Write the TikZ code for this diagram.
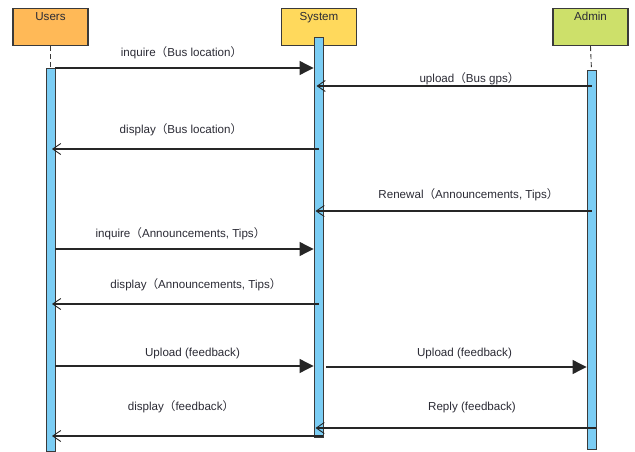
\documentclass[tikz,border=0pt]{standalone}
\usepackage{fontspec}
\setmainfont{Liberation Sans}
\newfontfamily\cjkfont{Noto Sans CJK SC}
\newcommand\fwl{{\cjkfont （}}
\newcommand\fwr{{\cjkfont ）}}
\usetikzlibrary{arrows.meta}
\definecolor{usersC}{HTML}{FFB957}
\definecolor{systemC}{HTML}{FFD95C}
\definecolor{adminC}{HTML}{CDE06A}
\definecolor{barC}{HTML}{7BCDF4}
\definecolor{edgeC}{HTML}{3A3A3A}
\definecolor{txtC}{HTML}{2B2B35}
\begin{document}
\begin{tikzpicture}[x=1pt,y=-1pt,
  font=\fontsize{11.6}{13.8}\selectfont,
  actor/.style={draw=edgeC, line width=1.2pt, minimum width=75pt, minimum height=37pt,
    inner sep=0pt, text height=12pt, text depth=25pt, anchor=north, text=txtC},
  bar/.style={draw=edgeC, fill=barC, line width=0.9pt, minimum width=9pt, inner sep=0pt, anchor=north},
  life/.style={draw=edgeC, line width=0.9pt, dash pattern=on 5pt off 3pt},
  msg/.style={draw=black!85, line width=1.1pt},
  sync/.style={msg, -{Triangle[length=14pt,width=14pt]}},
  reply/.style={msg, -{Straight Barb[length=8pt,width=11pt,line width=0.9pt]}},
  lbl/.style={anchor=base, text=txtC, inner sep=0pt}]
\useasboundingbox (0,0) rectangle (635,452);
\fill[white] (0,0) rectangle (635,452);

% actors
\node[actor, fill=usersC] (users) at (50.5,8) {Users};
\node[actor, fill=systemC] (system) at (319,8) {System};
\node[actor, fill=adminC] (admin) at (590.5,8) {Admin};

% lifelines
\coordinate (ulb) at (50.5,68);
\coordinate (alb) at (591.5,70);
\draw[life] (users.south) -- (ulb);
\draw[life] (admin.south) -- (alb);

% activation bars
\node[bar, minimum height=383pt] (ubar) at (50.5,68) {};
\node[bar, minimum height=400pt] (sbar) at (318.5,37) {};
\node[bar, minimum height=379pt] (abar) at (591.5,70) {};

% messages
\draw[sync] (ubar.east |- 0,68) -- (sbar.west |- 0,68);
\node[lbl] (l1) at (181.5,57) {inquire\fwl Bus location\fwr};

\draw[reply, shorten >=-2pt] (abar.center |- 0,86) -- (sbar.center |- 0,86);
\node[lbl] (l2) at (469.5,82) {upload\fwl Bus gps\fwr};

\draw[reply, shorten >=1.5pt] (sbar.center |- 0,149) -- (ubar.center |- 0,149);
\node[lbl] (l3) at (181,133) {display\fwl Bus location\fwr};

\draw[reply, shorten >=-3pt] (abar.center |- 0,211) -- (sbar.center |- 0,211);
\node[lbl] (l4) at (468.5,198) {Renewal\fwl Announcements, Tips\fwr};

\draw[sync] (ubar.east |- 0,249) -- (sbar.west |- 0,249);
\node[lbl] (l5) at (180.5,237) {inquire\fwl Announcements, Tips\fwr};

\draw[reply, shorten >=1.5pt] (sbar.center |- 0,304) -- (ubar.center |- 0,304);
\node[lbl] (l6) at (196,288) {display\fwl Announcements, Tips\fwr};

\draw[sync] (ubar.east |- 0,366) -- (sbar.west |- 0,366);
\node[lbl] (l7) at (192.5,356) {Upload (feedback)};

\draw[sync, shorten <=3pt] (sbar.east |- 0,367) -- (abar.west |- 0,367);
\node[lbl] (l8) at (464.5,356) {Upload (feedback)};

\draw[reply, shorten >=1.5pt] (sbar.east |- 0,436) -- (ubar.center |- 0,436);
\node[lbl] (l9) at (181,410) {display\fwl feedback\fwr};

\draw[reply, shorten >=-3pt] (abar.east |- 0,428) -- (sbar.center |- 0,428);
\node[lbl] (l10) at (472,410) {Reply (feedback)};
\end{tikzpicture}
\end{document}
